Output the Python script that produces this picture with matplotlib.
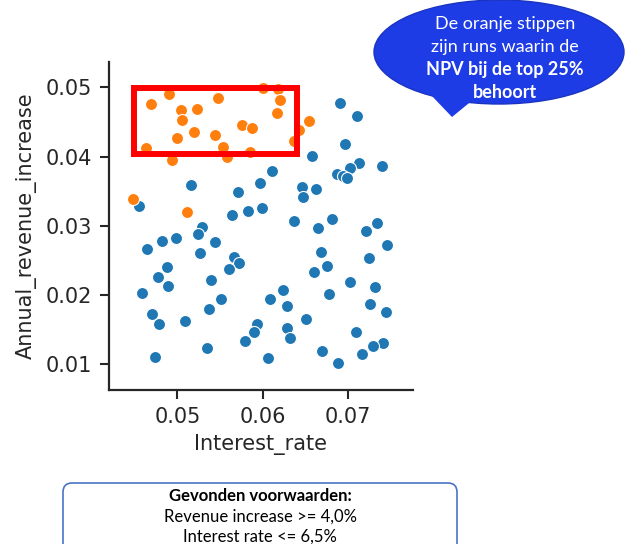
import matplotlib.pyplot as plt
from matplotlib.patches import Rectangle, Ellipse, Polygon, FancyBboxPatch

# runs with the NPV in the top 25% (orange)
top_rate = [0.04688, 0.04903, 0.05047, 0.05228, 0.05055, 0.05481, 0.06010, 0.06186,
            0.06206, 0.06167, 0.06550, 0.05756, 0.05880, 0.05200, 0.05443, 0.04993,
            0.04633, 0.05540, 0.05580, 0.04934, 0.05853, 0.06429, 0.06370, 0.04483,
            0.05110]
top_rev = [0.04759, 0.04903, 0.04672, 0.04682, 0.04523, 0.04841, 0.04986, 0.04971,
           0.04816, 0.04633, 0.04513, 0.04455, 0.04416, 0.04350, 0.04311, 0.04263,
           0.04119, 0.04142, 0.03997, 0.03949, 0.04069, 0.04383, 0.04228, 0.03382,
           0.03194]

# all other runs (blue)
other_rate = [0.06585, 0.06112, 0.05971, 0.05157, 0.05716, 0.06460, 0.06622, 0.06910,
              0.07106, 0.06969, 0.07137, 0.07028, 0.06871, 0.06942, 0.06989, 0.07400,
              0.06476, 0.06370, 0.06655, 0.06813, 0.07215, 0.07348, 0.07465, 0.06687,
              0.06754, 0.06605, 0.07247, 0.07028, 0.07317, 0.06781, 0.07262, 0.07447,
              0.06514, 0.06291, 0.06291, 0.06323, 0.07094, 0.07418, 0.07301, 0.07172,
              0.06699, 0.06890, 0.04550, 0.05639, 0.05826, 0.05998, 0.05294, 0.05247,
              0.04981, 0.04824, 0.05443, 0.04641, 0.05267, 0.05669, 0.05728, 0.05610,
              0.04876, 0.04773, 0.04891, 0.05396, 0.04582, 0.05513, 0.06088, 0.06241,
              0.05372, 0.04699, 0.04785, 0.05090, 0.05939, 0.05900, 0.05795, 0.05345,
              0.04738, 0.06061]
other_rev = [0.04007, 0.03798, 0.03617, 0.03588, 0.03494, 0.03559, 0.03530, 0.04769,
             0.04590, 0.04176, 0.03902, 0.03838, 0.03743, 0.03718, 0.03685, 0.03863,
             0.03419, 0.03075, 0.02967, 0.03090, 0.02923, 0.03039, 0.02721, 0.02620,
             0.02422, 0.02331, 0.02529, 0.02182, 0.02119, 0.02009, 0.01869, 0.01757,
             0.01652, 0.01844, 0.01526, 0.01377, 0.01460, 0.01309, 0.01262, 0.01142,
             0.01194, 0.01020, 0.03289, 0.03155, 0.03217, 0.03260, 0.02986, 0.02880,
             0.02827, 0.02783, 0.02760, 0.02663, 0.02610, 0.02544, 0.02461, 0.02370,
             0.02399, 0.02252, 0.02133, 0.02215, 0.02023, 0.01944, 0.01934, 0.02067,
             0.01792, 0.01724, 0.01580, 0.01619, 0.01575, 0.01460, 0.01338, 0.01229,
             0.01107, 0.01093]

# red box around the top runs
box_rate = (0.0449, 0.0640)
box_rev = (0.0403, 0.0499)

bubble_lines = ['De oranje stippen', 'zijn runs waarin de', 'NPV bij de top 25%', 'behoort']
cond_lines = ['Gevonden voorwaarden:', 'Revenue increase >= 4,0%', 'Interest rate <= 6,5%']

dark = '#262626'
fig = plt.figure(figsize=(6.26, 5.44), dpi=100)
ax = fig.add_axes([109 / 626, 1 - 390 / 544, 304 / 626, 328 / 544])

ax.scatter(other_rate, other_rev, s=75, color='#1f77b4', edgecolor='white', linewidth=0.8, zorder=2)
ax.scatter(top_rate, top_rev, s=75, color='#ff7f0e', edgecolor='white', linewidth=0.8, zorder=3)
ax.add_patch(Rectangle((box_rate[0], box_rev[0]), box_rate[1] - box_rate[0], box_rev[1] - box_rev[0],
                       fill=False, edgecolor='#ff0000', linewidth=4.3, zorder=4))

ax.set_xlim(0.04198, 0.07766)
ax.set_ylim(0.00626, 0.05366)
ax.set_xticks([0.05, 0.06, 0.07])
ax.set_yticks([0.01, 0.02, 0.03, 0.04, 0.05])
ax.set_xlabel('Interest_rate', fontsize=15, color=dark, labelpad=5)
ax.set_ylabel('Annual_revenue_increase', fontsize=15, color=dark, labelpad=6)
ax.tick_params(labelsize=15, colors=dark, length=6.5, width=1.5, pad=6)
ax.spines['top'].set_visible(False)
ax.spines['right'].set_visible(False)
for s in ['left', 'bottom']:
    ax.spines[s].set_linewidth(1.6)
    ax.spines[s].set_color(dark)

# overlay in pixel coordinates for the callouts
ov = fig.add_axes([0, 0, 1, 1])
ov.set_xlim(0, 626)
ov.set_ylim(544, 0)
ov.axis('off')
ov.patch.set_alpha(0)

blue = '#1e3ce6'
ov.add_patch(Ellipse((499, 52), 250, 104, facecolor=blue, edgecolor='#1a34c0', linewidth=1))
ov.add_patch(Polygon([(430, 94), (452, 117), (474, 99)], closed=True, facecolor=blue, edgecolor='none'))
ys = [24, 47, 70, 92]
for i, line in enumerate(bubble_lines):
    ov.text(505, ys[i], line, color='white', fontsize=13, family='Lato',
            fontweight='bold' if i >= 2 else 'normal', ha='center', va='center')

ov.add_patch(FancyBboxPatch((63, 483), 394, 80, boxstyle='round,pad=0,rounding_size=9',
                            facecolor='white', edgecolor='#4a74c4', linewidth=1.2))
ys = [501, 522, 542]
for i, line in enumerate(cond_lines):
    ov.text(260, ys[i], line, color='black', fontsize=12, family='Lato',
            fontweight='bold' if i == 0 else 'normal', ha='center', va='baseline')

plt.savefig('out.png')
